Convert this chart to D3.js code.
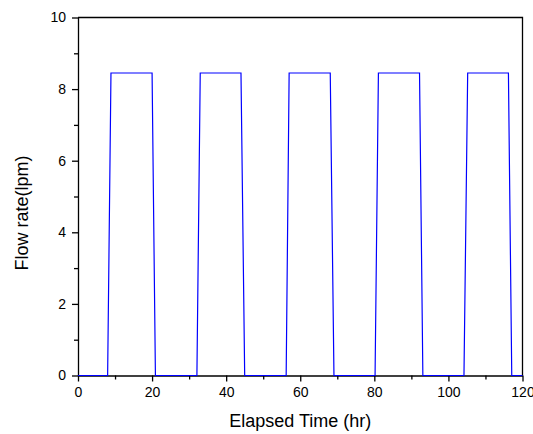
<!DOCTYPE html>
<html lang="en">
<head>
<meta charset="UTF-8">
<script src="https://d3js.org/d3.v7.min.js"></script>
<style>
  body { margin: 0; background: #fff; }
  svg text { font-family: "Liberation Sans", Arial, sans-serif; fill: #000; }
</style>
</head>
<body>
<div id="chart"></div>
<script>
// Elapsed time (hr) at each corner of the flow trace
var timeHr = [0, 8.0, 8.9, 20.0, 20.9, 32.1, 33.0, 44.0, 45.0, 56.2, 57.0, 68.1, 69.1,
              80.2, 81.1, 92.2, 93.1, 104.2, 105.2, 116.2, 117.1, 120];
// Flow rate (lpm) at those times
var flowLpm = [0, 0, 8.45, 8.45, 0, 0, 8.45, 8.45, 0, 0, 8.45, 8.45, 0,
               0, 8.45, 8.45, 0, 0, 8.45, 8.45, 0, 0];
var xTicks = [0, 20, 40, 60, 80, 100, 120];
var yTicks = [0, 2, 4, 6, 8, 10];

var margin = { top: 17.5, right: 10.5, bottom: 58.5, left: 78 },
    W = 533, H = 434,
    width = W - margin.left - margin.right,
    height = H - margin.top - margin.bottom;

var svg = d3.select("#chart").append("svg")
    .attr("width", W)
    .attr("height", H);

var g = svg.append("g")
    .attr("transform", "translate(" + margin.left + "," + margin.top + ")");

var x = d3.scaleLinear().domain([0, 120]).range([0, width]);
var y = d3.scaleLinear().domain([0, 10]).range([height, 0]);

// frame (top and right)
g.append("path")
    .attr("d", "M0,0H" + width + "V" + height)
    .attr("fill", "none")
    .attr("stroke", "#000")
    .attr("stroke-width", 1.3);

// minor ticks
g.append("g")
    .attr("transform", "translate(0," + height + ")")
    .call(d3.axisBottom(x).tickValues(d3.range(10, 120, 20)).tickSize(4).tickFormat(""))
    .call(function (a) { a.select(".domain").remove(); });
g.append("g")
    .call(d3.axisLeft(y).tickValues(d3.range(1, 10, 2)).tickSize(4).tickFormat(""))
    .call(function (a) { a.select(".domain").remove(); });

// major axes
var xAxis = g.append("g")
    .attr("transform", "translate(0," + height + ")")
    .call(d3.axisBottom(x).tickValues(xTicks).tickSize(6).tickSizeOuter(0).tickPadding(6));
var yAxis = g.append("g")
    .call(d3.axisLeft(y).tickValues(yTicks).tickSize(6).tickSizeOuter(0).tickPadding(6));

g.selectAll(".tick line").attr("stroke-width", 1.3);
g.selectAll(".domain").attr("stroke-width", 1.3);
g.selectAll(".tick text").attr("font-size", "14px")
    .attr("font-family", "Liberation Sans, Arial, sans-serif");

// flow trace
var line = d3.line()
    .x(function (d, i) { return x(timeHr[i]); })
    .y(function (d) { return y(d); });

g.append("path")
    .datum(flowLpm)
    .attr("d", line)
    .attr("fill", "none")
    .attr("stroke", "#0000ff")
    .attr("stroke-width", 1.2);

// axis titles
svg.append("text")
    .attr("x", margin.left + width / 2)
    .attr("y", 427)
    .attr("text-anchor", "middle")
    .attr("font-size", "18px")
    .text("Elapsed Time (hr)");

svg.append("text")
    .attr("transform", "translate(28,213) rotate(-90)")
    .attr("text-anchor", "middle")
    .attr("font-size", "18px")
    .text("Flow rate(lpm)");
</script>
</body>
</html>
